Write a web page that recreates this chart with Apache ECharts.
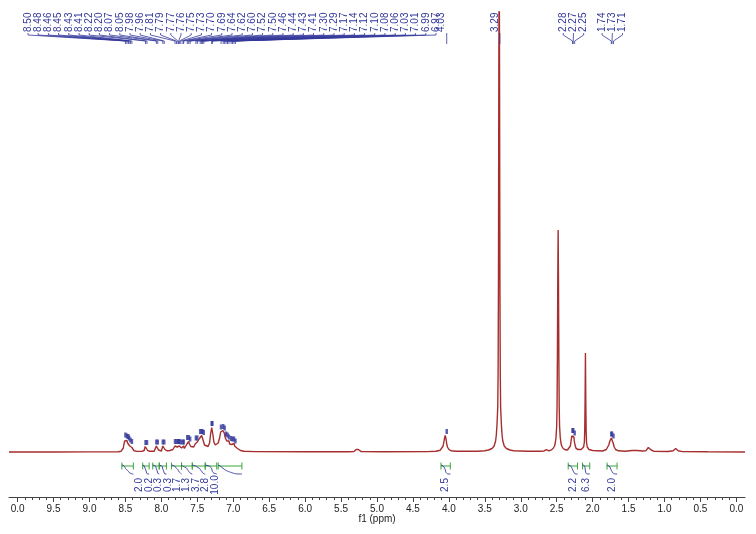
<!DOCTYPE html>
<html><head><meta charset="utf-8">
<script src="https://cdn.jsdelivr.net/npm/echarts@6/dist/echarts.min.js"></script>
<style>html,body{margin:0;padding:0;background:#fff}#c{width:756px;height:534px}</style>
</head><body><div id="c"></div>
<script>
// ---- axis ticks ----
const tickValues = [10,9.5,9,8.5,8,7.5,7,6.5,6,5.5,5,4.5,4,3.5,3,2.5,2,1.5,1,0.5,0];
const tickLabels = ['0.0','9.5','9.0','8.5','8.0','7.5','7.0','6.5','6.0','5.5','5.0','4.5','4.0','3.5','3.0','2.5','2.0','1.5','1.0','0.5','0.0'];

// ---- spectrum [ppm, intensity] ----
const spectrum = [
 [10.12,0],[9.5,0],[9.0,0.1],[8.6,0.3],
 [8.56,0.8],[8.54,2],[8.53,4],[8.52,8],[8.51,11],[8.505,13],[8.50,12],[8.49,10],[8.48,11.5],[8.47,9],[8.46,10],[8.455,9.5],[8.45,8],[8.44,6],[8.43,6.5],[8.42,4],[8.41,4.5],[8.40,2.5],[8.38,1.2],[8.34,0.6],
 [8.27,0.6],[8.24,1.5],[8.225,5.5],[8.215,4],[8.205,5.5],[8.19,1.5],[8.16,0.7],
 [8.10,0.8],[8.08,2],[8.07,6],[8.06,4.5],[8.05,6],[8.04,2],[8.02,1],
 [8.00,1],[7.985,3],[7.98,6],[7.97,4.5],[7.96,6],[7.95,2.5],[7.92,1.2],[7.88,1.5],
 [7.84,2.5],[7.82,4.5],[7.81,6],[7.80,5],[7.79,6.5],[7.78,5],[7.77,6],[7.765,5.5],[7.76,6.5],[7.75,6],[7.74,5],[7.73,6],[7.72,4],[7.705,5.5],[7.69,6],[7.68,3.5],[7.67,3],
 [7.655,5],[7.645,8],[7.64,10],[7.63,9],[7.62,10.5],[7.61,8],[7.60,9],[7.59,5.5],[7.57,4],[7.55,5],
 [7.53,8],[7.52,10],[7.51,8.5],[7.50,10],[7.49,8],
 [7.475,11],[7.465,14],[7.46,16],[7.45,14.5],[7.44,16.5],[7.435,15],[7.43,15.5],[7.42,12],[7.41,11],[7.40,7],[7.38,5],[7.35,5.5],
 [7.33,9],[7.315,18],[7.30,24.5],[7.295,23],[7.29,24],[7.28,16],[7.27,10],[7.25,7],[7.23,7.5],[7.21,9],
 [7.19,14],[7.175,20],[7.17,21],[7.16,18],[7.145,21.5],[7.14,20],[7.125,19],[7.12,18.5],[7.11,14],[7.10,13],[7.09,11],[7.08,12.5],[7.07,10],[7.06,11],[7.05,8],[7.04,8.5],[7.03,9.5],[7.02,7.5],[7.01,9],[7.00,7],[6.99,8.5],[6.98,6],[6.97,7],[6.95,4],[6.93,2.5],[6.90,1.5],[6.85,0.8],[6.7,0.4],[6.0,0.2],
 [5.40,0.2],[5.32,0.5],[5.30,1.5],[5.29,2.5],[5.28,2],[5.27,3],[5.26,2.5],[5.25,1],[5.22,0.4],[4.9,0.3],[4.3,0.4],
 [4.18,0.8],[4.12,1.8],[4.10,3],[4.08,6],[4.07,10],[4.06,14],[4.05,16.5],[4.045,16],[4.04,13],[4.03,8],[4.02,5],[4.00,2.5],[3.97,1.3],[3.9,0.7],
 [3.6,0.8],[3.5,1.2],[3.45,2],[3.40,3.5],[3.37,6],[3.35,11],[3.34,17],[3.33,28],[3.32,45],[3.315,80],[3.31,170],[3.305,380],[3.30,520],[3.295,380],[3.29,170],[3.285,80],[3.28,45],[3.27,28],[3.26,17],[3.25,11],[3.23,6],[3.20,3.5],[3.15,2],[3.1,1.2],[2.9,0.8],[2.72,0.8],
 [2.68,0.9],[2.655,1.5],[2.645,2.3],[2.635,1.5],[2.61,1.1],
 [2.58,1.8],[2.55,3.5],[2.53,6],[2.52,9],[2.51,14],[2.50,26],[2.495,45],[2.49,95],[2.485,170],[2.48,222],[2.475,170],[2.47,95],[2.465,45],[2.46,26],[2.45,14],[2.44,9],[2.43,6],[2.41,3.5],[2.38,2.2],[2.35,2],
 [2.33,3],[2.31,6],[2.30,11],[2.29,16],[2.285,14],[2.275,17.5],[2.27,14],[2.26,15],[2.255,11],[2.245,7],[2.23,3.5],[2.20,2.5],[2.16,2.5],
 [2.14,2.5],[2.125,5],[2.115,10],[2.11,20],[2.105,50],[2.10,99],[2.095,50],[2.09,20],[2.085,10],[2.075,5],[2.05,2.5],[2.0,1.5],
 [1.86,1],[1.81,2.5],[1.79,4],[1.775,7],[1.76,11],[1.755,12.5],[1.745,13],[1.74,14],[1.73,13],[1.725,12],[1.71,8],[1.70,5],[1.68,2.5],[1.64,1.2],
 [1.55,0.8],[1.45,1.5],[1.38,1.5],[1.30,1.0],
 [1.26,1.2],[1.24,2.5],[1.225,4.5],[1.21,5.5],[1.20,4],[1.185,2],[1.15,0.8],
 [0.95,0.5],[0.88,1.2],[0.86,2.5],[0.845,3.5],[0.83,2.8],[0.81,1.2],[0.75,0.4],[0.4,0.2],[-0.12,0]
];

// ---- picked peak labels (groups) ----
const peaksAromatic = [8.50,8.48,8.46,8.45,8.43,8.41,8.22,8.20,8.07,8.05,7.98,7.96,7.81,7.79,7.77,7.76,7.75,7.73,7.70,7.69,7.64,7.62,7.60,7.52,7.50,7.46,7.44,7.43,7.41,7.30,7.29,7.17,7.14,7.12,7.10,7.08,7.06,7.03,7.01,6.99,6.97];
const peaks403 = [4.03];
const peaks329 = [3.29];
const peaks227 = [2.28,2.27,2.25];
const peaks173 = [1.74,1.73,1.71];

// ---- integrals ----
const integralFrom = [8.55,8.26,8.12,8.03,7.86,7.72,7.57,7.39,7.21,4.11,2.34,2.14,1.80];
const integralTo   = [8.39,8.17,8.03,7.93,7.72,7.57,7.39,7.23,6.88,3.98,2.21,2.04,1.66];
const integralValues = ['2.0','0.2','0.3','0.3','1.7','1.3','3.7','2.8','10.0','2.5','2.2','6.3','2.0'];
const integralGroup = [0,0,0,0,0,0,0,0,0,1,2,3,4];

// ---- style ----
const BLUE = '#33389a', RED = '#a62e2e', GREEN = '#3aa63a';
const FONT = '"Liberation Sans", Arial, sans-serif';
const LABEL_SP = 10.2, INT_SP = 9.4;

const minorValues = [];
for (let k = 0; k <= 100; k++) { if (k % 5 !== 0) minorValues.push(k / 10); }

const peakGroups = [peaksAromatic, peaks403, peaks329, peaks227, peaks173];
const peakItems = [];
peakGroups.forEach((g, gi) => g.forEach((p, i) => peakItems.push([p, 0, gi, i])));

function heightAt(ppm) {
  let m = 0;
  spectrum.forEach(p => { if (Math.abs(p[0] - ppm) <= 0.02 && p[1] > m) m = p[1]; });
  return m;
}
const markerData = [];
peakGroups.forEach(g => g.forEach(p => markerData.push([p, heightAt(p)])));

function renderPeakLabel(params, api) {
  const gi = api.value(2), i = api.value(3);
  const grp = peakGroups[gi];
  const xs = grp.map(p => api.coord([p, 0])[0]);
  const mean = xs.reduce((a, b) => a + b, 0) / xs.length;
  const cs = params.coordSys;
  let left = mean - (grp.length - 1) / 2 * LABEL_SP;
  left = Math.max(left, cs.x + 19);
  const lx = left + i * LABEL_SP;
  const tx = grp.length === 1 ? lx - 5 : lx;
  const px = xs[i];
  const top = cs.y;
  return {type: 'group', children: [
    {type: 'text', x: tx, y: top + 20, rotation: Math.PI / 2,
     style: {text: grp[i].toFixed(2), fill: BLUE, fontSize: 10, fontFamily: FONT, align: 'left', verticalAlign: 'middle'}},
    {type: 'polyline', shape: {points: [[lx, top + 21], [lx, top + 23], [px, top + 29], [px, top + 32]]},
     style: {stroke: BLUE, lineWidth: 0.8, fill: null}}
  ]};
}

function integralLabelX(api, k) {
  const g = integralGroup[k];
  const members = [];
  integralGroup.forEach((gg, j) => { if (gg === g) members.push(j); });
  const xs = members.map(j => (api.coord([integralFrom[j], 0])[0] + api.coord([integralTo[j], 0])[0]) / 2);
  const mean = xs.reduce((a, b) => a + b, 0) / xs.length;
  const n = members.indexOf(k);
  return mean + (n - (members.length - 1) / 2) * INT_SP;
}

function renderIntegral(params, api) {
  const k = api.value(2);
  const x1 = api.coord([integralFrom[k], 0])[0], x2 = api.coord([integralTo[k], 0])[0];
  const baseY = api.coord([0, 0])[1];
  const barY = baseY + 14;
  const lx = integralLabelX(api, k);
  const pts = spectrum.filter(p => p[0] <= integralFrom[k] && p[0] >= integralTo[k]);
  let tot = 0; pts.forEach(p => tot += p[1]);
  let cum = 0;
  const curve = [[x1, barY - 1]];
  pts.forEach(p => { cum += p[1]; curve.push([api.coord([p[0], 0])[0], barY - 1 + 9 * cum / tot]); });
  curve.push([x2, barY + 8]);
  return {type: 'group', children: [
    {type: 'line', shape: {x1: x1, y1: barY, x2: x2, y2: barY}, style: {stroke: GREEN, lineWidth: 1}},
    {type: 'line', shape: {x1: x1, y1: barY - 3.5, x2: x1, y2: barY + 3.5}, style: {stroke: GREEN, lineWidth: 1}},
    {type: 'line', shape: {x1: x2, y1: barY - 3.5, x2: x2, y2: barY + 3.5}, style: {stroke: GREEN, lineWidth: 1}},
    {type: 'polyline', shape: {points: curve}, style: {stroke: BLUE, lineWidth: 0.9, fill: null}},
    {type: 'text', x: lx, y: baseY + 33, rotation: Math.PI / 2,
     style: {text: integralValues[k], fill: BLUE, fontSize: 10, fontFamily: FONT, align: 'center', verticalAlign: 'middle'}}
  ]};
}

const chart = echarts.init(document.getElementById('c'));
chart.setOption({
  animation: false,
  backgroundColor: '#fff',
  grid: {left: 9, right: 11, top: 12, bottom: 37},
  xAxis: [{
    type: 'value', inverse: true, min: -0.12, max: 10.12, position: 'bottom',
    axisLine: {onZero: false, lineStyle: {color: '#444', width: 1}},
    axisTick: {customValues: tickValues, length: 5, lineStyle: {color: '#444'}},
    axisLabel: {customValues: tickValues, margin: 7, color: '#222', fontSize: 10, fontFamily: FONT,
      formatter: v => { const i = tickValues.findIndex(t => Math.abs(t - v) < 1e-6); return i >= 0 ? tickLabels[i] : ''; }},
    splitLine: {show: false},
    name: 'f1 (ppm)', nameLocation: 'middle', nameGap: 17, nameMoveOverlap: false,
    nameTextStyle: {color: '#222', fontSize: 10, fontFamily: FONT}
  }, {
    type: 'value', inverse: true, min: -0.12, max: 10.12, position: 'bottom', offset: 0,
    axisLine: {show: false, onZero: false},
    axisTick: {customValues: minorValues, length: 3, lineStyle: {color: '#444'}},
    axisLabel: {show: false}, splitLine: {show: false}
  }],
  yAxis: {type: 'value', min: -45, max: 440, show: false},
  series: [
    {type: 'line', data: spectrum, showSymbol: false, symbol: 'none', clip: true,
     lineStyle: {color: RED, width: 1.4}, z: 3},
    {type: 'scatter', data: markerData, symbol: 'rect', symbolSize: [2.5, 5], symbolOffset: [0, -4],
     itemStyle: {color: BLUE}, clip: true, z: 4},
    {type: 'custom', data: peakItems, renderItem: renderPeakLabel, encode: {x: 0, y: 1}, clip: false, z: 5},
    {type: 'custom', data: integralFrom.map((f, k) => [f, 0, k]), renderItem: renderIntegral, encode: {x: 0, y: 1}, clip: false, z: 5}
  ]
});
</script></body></html>
